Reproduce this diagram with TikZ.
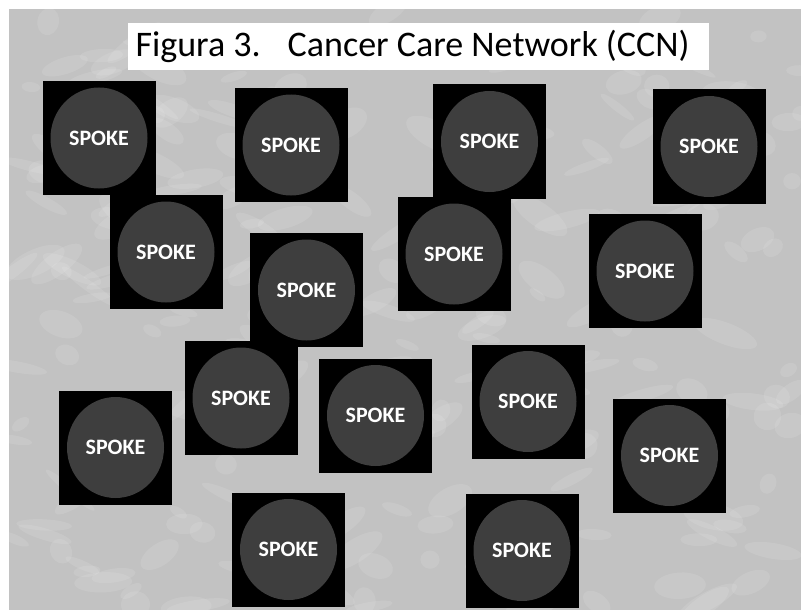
\documentclass[tikz,border=0pt]{standalone}
\usepackage{fontspec}
\setmainfont{Carlito}
\usetikzlibrary{shapes.geometric}
\definecolor{bgwhite}{RGB}{255,255,255}
\definecolor{bggray}{RGB}{194,194,194}
\definecolor{disc}{RGB}{62,62,62}
\tikzset{
  spokebox/.style={rectangle, fill=black, minimum width=113pt, minimum height=114pt, inner sep=0pt},
  spokedisc/.style={ellipse, fill=disc, minimum width=97pt, minimum height=101pt, inner sep=0pt,
    text=white, font=\fontsize{22}{22}\selectfont\bfseries},
  titlebox/.style={rectangle, fill=white, minimum width=581pt, minimum height=47pt, inner sep=0pt,
    font=\fontsize{36}{36}\selectfont},
  blotch/.style={fill=white, opacity=0.10}
}
\begin{document}
\begin{tikzpicture}[x=1pt,y=-1pt]
\useasboundingbox (0,0) rectangle (801,610);
\fill[bgwhite] (0,0) rectangle (801,610);
\fill[bggray] (9,9) rectangle (801,610);
\begin{scope}
\clip (9,9) rectangle (801,610);
\pgfmathsetseed{4242}
\foreach \i in {1,...,260}{
  \pgfmathsetmacro{\bx}{9+792*rnd}
  \pgfmathsetmacro{\by}{9+601*rnd}
  \pgfmathsetmacro{\rx}{8+26*rnd}
  \pgfmathsetmacro{\ry}{4+10*rnd}
  \pgfmathsetmacro{\ang}{-40+80*rnd}
  \fill[blotch, rotate around={\ang:(\bx,\by)}] (\bx,\by) ellipse [x radius=\rx, y radius=\ry];
}
\end{scope}
\node[titlebox] (title) at (418.5,46.5) {Figura 3.\hspace{0.75em}Cancer Care Network (CCN)\hspace*{12pt}};
% spokes: box centre, label
\foreach \n/\x/\y in {1/99/138, 2/291/145, 3/489.5/141.5, 4/709/146.5,
                      5/166/252, 6/306.5/290, 7/454/254, 8/645/271,
                      9/241/398, 10/375.5/415.5, 11/528/401.5, 12/115.5/447.5,
                      13/669.5/455.5, 14/288.5/549.5, 15/522/550.5}{
  \node[spokebox] (box\n) at (\x,\y) {};
  \node[spokedisc] (spoke\n) at (box\n.center) {SPOKE};
}
\end{tikzpicture}
\end{document}
